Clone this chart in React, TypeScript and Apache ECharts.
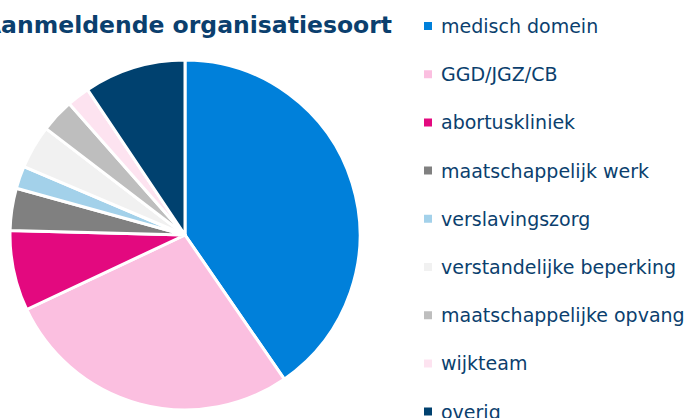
import React, { useEffect, useRef } from "react";
import * as echarts from "echarts";

const categories = [
  "medisch domein",
  "GGD/JGZ/CB",
  "abortuskliniek",
  "maatschappelijk werk",
  "verslavingszorg",
  "verstandelijke beperking",
  "maatschappelijke opvang",
  "wijkteam",
  "overig",
];
const values = [40.4, 27.6, 7.4, 3.9, 2.1, 4.0, 3.1, 2.1, 9.4];
const colors = [
  "#0080DA",
  "#FBBFE0",
  "#E3097F",
  "#808080",
  "#A3D1EA",
  "#F1F1F1",
  "#BEBEBE",
  "#FDE3F0",
  "#00416F",
];
const titleText = "Aanmeldende organisatiesoort";

export default function App() {
  const ref = useRef<HTMLDivElement>(null);
  useEffect(() => {
    if (!ref.current) return;
    const chart = echarts.init(ref.current, null, { renderer: "svg" });
    chart.setOption({
      animation: false,
      backgroundColor: "#ffffff",
      graphic: [
        {
          type: "text",
          x: 392,
          y: 13,
          style: {
            text: titleText,
            fill: "#0B3F6E",
            font: "bold 23.5px 'DejaVu Sans'",
            textAlign: "right",
            textVerticalAlign: "top",
          },
        },
      ],
      legend: {
        orient: "vertical",
        left: 422,
        top: 16,
        height: 600,
        padding: 0,
        icon: "rect",
        itemWidth: 10,
        itemHeight: 10,
        itemGap: 28.2,
        textStyle: {
          color: "#0B3F6E",
          fontFamily: "DejaVu Sans",
          fontSize: 19,
          lineHeight: 20,
          padding: [0, 0, 0, 3],
        },
        data: categories,
      },
      series: [
        {
          type: "pie",
          center: [185, 235],
          radius: 175,
          startAngle: 90,
          clockwise: true,
          label: { show: false },
          labelLine: { show: false },
          emphasis: { disabled: true },
          itemStyle: { borderColor: "#ffffff", borderWidth: 3 },
          data: categories.map((name, i) => ({
            name,
            value: values[i],
            itemStyle: { color: colors[i] },
          })),
        },
      ],
    });
    return () => chart.dispose();
  }, []);
  return (
    <div
      ref={ref}
      style={{ position: "fixed", left: 0, top: 0, width: 688, height: 418 }}
    />
  );
}
